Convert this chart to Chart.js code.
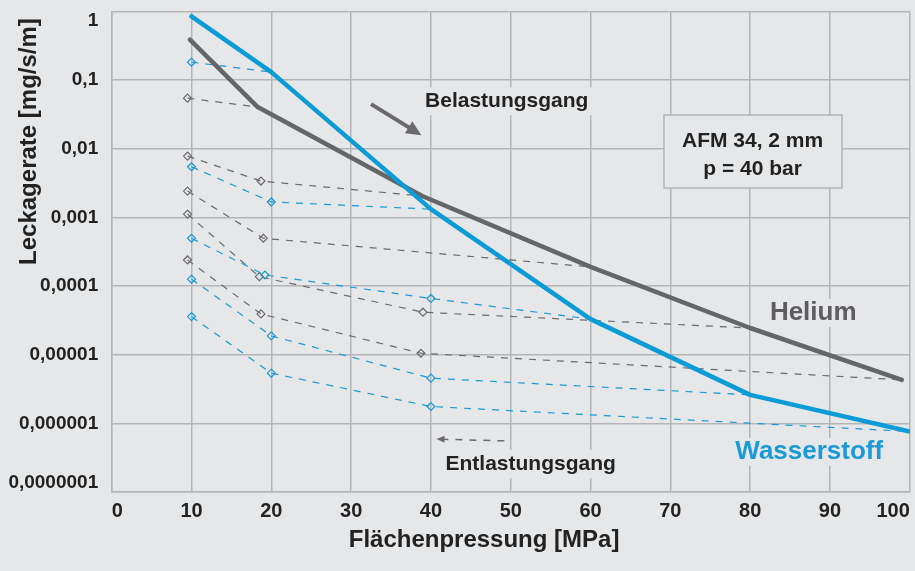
<!DOCTYPE html>
<html>
<head>
<meta charset="utf-8">
<script src="https://cdn.jsdelivr.net/npm/chart.js@4"></script>
<style>
  html, body { margin: 0; padding: 0; background: #e6e7e9; }
  #wrap { width: 915px; height: 571px; }
</style>
</head>
<body>
<div id="wrap"><canvas id="myChart" width="915" height="571"></canvas></div>
<script>
// main curves (Belastungsgang)
const heliumX = [9.8, 18.3, 38.9, 60, 80, 99];
const heliumY = [0.389, 0.0405, 0.00205, 0.00019, 0.0000245, 0.0000043];
const h2X = [10, 20, 40, 60, 80, 100];
const h2Y = [0.85, 0.131, 0.00132, 0.000033, 0.0000026, 0.00000076];

// unloading curves (Entlastungsgang), hydrogen
const h2Down1X = [10, 20];
const h2Down1Y = [0.183, 0.131];
const h2Down2X = [10, 20, 40];
const h2Down2Y = [0.00547, 0.00168, 0.00132];
const h2Down3X = [10, 19.2, 40, 60];
const h2Down3Y = [0.000497, 0.000145, 0.000066, 0.000033];
const h2Down4X = [10, 20, 40, 80];
const h2Down4Y = [0.000126, 0.0000188, 0.00000455, 0.0000026];
const h2Down5X = [10, 20, 40, 100];
const h2Down5Y = [0.0000359, 0.00000538, 0.00000176, 0.00000076];

// unloading curves, helium
const heDown1X = [9.5, 18.3];
const heDown1Y = [0.0547, 0.0405];
const heDown2X = [9.5, 18.7, 38.9];
const heDown2Y = [0.00783, 0.00339, 0.00205];
const heDown3X = [9.5, 19, 60];
const heDown3Y = [0.00242, 0.000497, 0.00019];
const heDown4X = [9.5, 18.5, 39, 80];
const heDown4Y = [0.00112, 0.000137, 0.0000416, 0.0000245];
const heDown5X = [9.5, 18.7, 38.75, 99];
const heDown5Y = [0.00024, 0.0000393, 0.0000105, 0.0000043];

const xTicks = [0, 10, 20, 30, 40, 50, 60, 70, 80, 90, 100];
const yTickValues = [1e-7, 1e-6, 1e-5, 1e-4, 1e-3, 1e-2, 1e-1, 1];
const yTickLabels = ['0,0000001', '0,000001', '0,00001', '0,0001', '0,001', '0,01', '0,1', '1'];

const BG = '#e6e7e9';
const GRID = '#b4b5b7';
const BLUE = '#0b9bd7';
const GREY = '#656668';
const FONT = '"Liberation Sans", Arial, sans-serif';

const pts = (xs, ys) => xs.map((x, i) => ({ x: x, y: ys[i] }));

function mainLine(label, xs, ys, color) {
  return {
    label: label,
    data: pts(xs, ys),
    borderColor: color,
    borderWidth: 4.5,
    pointRadius: 0,
    tension: 0,
    borderJoinStyle: 'round',
    borderCapStyle: 'round'
  };
}

function downLine(xs, ys, color) {
  const n = xs.length;
  return {
    data: pts(xs, ys),
    borderColor: color,
    borderWidth: 1.2,
    borderDash: [7, 7],
    tension: 0,
    pointStyle: 'rectRot',
    pointRadius: ctx => ctx.dataIndex === n - 1 ? 0 : 4,
    pointBorderColor: color,
    pointBorderWidth: 1.2,
    pointBackgroundColor: 'rgba(0,0,0,0)'
  };
}

// annotations placed in data coordinates
function textBox(ctx, text, x, y, font, color) {
  ctx.font = font;
  const w = ctx.measureText(text).width;
  ctx.fillStyle = BG;
  ctx.fillRect(x - w / 2 - 4, y - 14, w + 8, 28);
  ctx.fillStyle = color;
  ctx.textAlign = 'center';
  ctx.textBaseline = 'middle';
  ctx.fillText(text, x, y);
}

const annotations = {
  id: 'annotations',
  beforeDraw(chart) {
    const ctx = chart.ctx;
    ctx.save();
    ctx.fillStyle = BG;
    ctx.fillRect(0, 0, chart.width, chart.height);
    ctx.restore();
  },
  beforeDatasetsDraw(chart) {
    const ctx = chart.ctx;
    const xs = chart.scales.x, ys = chart.scales.y;
    const px = v => xs.getPixelForValue(v);
    const py = v => ys.getPixelForValue(v);
    ctx.save();

    textBox(ctx, 'Belastungsgang', px(49.5), py(0.0494), 'bold 21px ' + FONT, '#222');
    textBox(ctx, 'Entlastungsgang', px(52.5), py(2.57e-7), 'bold 21px ' + FONT, '#222');
    textBox(ctx, 'Helium', px(87.9), py(4.06e-5), 'bold 26px ' + FONT, '#5d5d5f');
    textBox(ctx, 'Wasserstoff', px(87.4), py(3.85e-7), 'bold 26px ' + FONT, '#1a9ad6');

    // info box
    const bx0 = px(69.2), bx1 = px(91.5), by0 = py(0.031), by1 = py(0.00268);
    ctx.fillStyle = BG;
    ctx.fillRect(bx0, by0, bx1 - bx0, by1 - by0);
    ctx.strokeStyle = GRID;
    ctx.lineWidth = 1.5;
    ctx.strokeRect(bx0, by0, bx1 - bx0, by1 - by0);
    ctx.fillStyle = '#222';
    ctx.font = 'bold 21px ' + FONT;
    ctx.textAlign = 'center';
    ctx.textBaseline = 'middle';
    ctx.fillText('AFM 34, 2 mm', px(80.3), py(0.013));
    ctx.fillText('p = 40 bar', px(80.3), py(0.0051));

    // loading arrow
    let x0 = px(32.5), y0 = py(0.0448), x1 = px(38.8), y1 = py(0.0158);
    let a = Math.atan2(y1 - y0, x1 - x0);
    ctx.strokeStyle = '#6a6a6c';
    ctx.fillStyle = '#6a6a6c';
    ctx.lineWidth = 4;
    ctx.beginPath();
    ctx.moveTo(x0, y0);
    ctx.lineTo(x1 - 10 * Math.cos(a), y1 - 10 * Math.sin(a));
    ctx.stroke();
    ctx.beginPath();
    ctx.moveTo(x1, y1);
    ctx.lineTo(x1 - 15 * Math.cos(a) + 7 * Math.sin(a), y1 - 15 * Math.sin(a) - 7 * Math.cos(a));
    ctx.lineTo(x1 - 15 * Math.cos(a) - 7 * Math.sin(a), y1 - 15 * Math.sin(a) + 7 * Math.cos(a));
    ctx.closePath();
    ctx.fill();

    // unloading arrow
    x0 = px(49.2); y0 = py(5.56e-7); x1 = px(40.7); y1 = py(5.9e-7);
    a = Math.atan2(y1 - y0, x1 - x0);
    ctx.lineWidth = 1.5;
    ctx.setLineDash([7, 7]);
    ctx.beginPath();
    ctx.moveTo(x0, y0);
    ctx.lineTo(x1 - 6 * Math.cos(a), y1 - 6 * Math.sin(a));
    ctx.stroke();
    ctx.setLineDash([]);
    ctx.beginPath();
    ctx.moveTo(x1, y1);
    ctx.lineTo(x1 - 8 * Math.cos(a) + 3.5 * Math.sin(a), y1 - 8 * Math.sin(a) - 3.5 * Math.cos(a));
    ctx.lineTo(x1 - 8 * Math.cos(a) - 3.5 * Math.sin(a), y1 - 8 * Math.sin(a) + 3.5 * Math.cos(a));
    ctx.closePath();
    ctx.fill();

    ctx.restore();
  }
};

// first and last y label are nudged inward like in the original
function yLabel(value, index) {
  const t = yTickLabels[index];
  if (index === 0) return [t, ''];
  if (index === yTickLabels.length - 1) return ['', t];
  return t;
}

const ctx = document.getElementById('myChart');

new Chart(ctx, {
  type: 'line',
  data: {
    datasets: [
      mainLine('Wasserstoff', h2X, h2Y, BLUE),
      mainLine('Helium', heliumX, heliumY, GREY),
      downLine(h2Down1X, h2Down1Y, '#1a9ad6'),
      downLine(h2Down2X, h2Down2Y, '#1a9ad6'),
      downLine(h2Down3X, h2Down3Y, '#1a9ad6'),
      downLine(h2Down4X, h2Down4Y, '#1a9ad6'),
      downLine(h2Down5X, h2Down5Y, '#1a9ad6'),
      downLine(heDown1X, heDown1Y, '#6b6b6d'),
      downLine(heDown2X, heDown2Y, '#6b6b6d'),
      downLine(heDown3X, heDown3Y, '#6b6b6d'),
      downLine(heDown4X, heDown4Y, '#6b6b6d'),
      downLine(heDown5X, heDown5Y, '#6b6b6d')
    ]
  },
  options: {
    responsive: false,
    animation: false,
    layout: { padding: { left: 0, right: 3.3, top: 11.5, bottom: 0 } },
    plugins: {
      legend: { display: false },
      tooltip: { enabled: false }
    },
    scales: {
      x: {
        type: 'linear',
        min: 0,
        max: 100,
        afterBuildTicks: scale => { scale.ticks = xTicks.map(v => ({ value: v })); },
        afterFit: scale => { scale.height = 79; scale.paddingLeft = 0; scale.paddingRight = 0; },
        grid: { color: GRID, lineWidth: 1.5, drawTicks: false },
        border: { color: GRID, width: 1.5 },
        ticks: {
          align: 'inner',
          padding: 7,
          color: '#222',
          font: { family: FONT, size: 20, weight: 'bold' }
        },
        title: {
          display: true,
          text: 'Flächenpressung [MPa]        ',
          color: '#222',
          padding: { top: 0, bottom: 16 },
          font: { family: FONT, size: 24, weight: 'bold' }
        }
      },
      y: {
        type: 'logarithmic',
        min: 1e-7,
        max: 1,
        afterBuildTicks: scale => { scale.ticks = yTickValues.map(v => ({ value: v })); },
        afterFit: scale => { scale.width = 111.7; scale.paddingTop = 0; scale.paddingBottom = 0; },
        grid: { color: GRID, lineWidth: 1.5, drawTicks: false },
        border: { color: GRID, width: 1.5 },
        ticks: {
          padding: 13.5,
          color: '#222',
          font: { family: FONT, size: 19, weight: 'bold', lineHeight: 0.95 },
          callback: yLabel
        },
        title: {
          display: true,
          text: 'Leckagerate [mg/s/m] ',
          align: 'end',
          color: '#222',
          padding: { top: 15, bottom: 0 },
          font: { family: FONT, size: 24, weight: 'bold' }
        }
      }
    }
  },
  plugins: [annotations]
});
</script>
</body>
</html>
